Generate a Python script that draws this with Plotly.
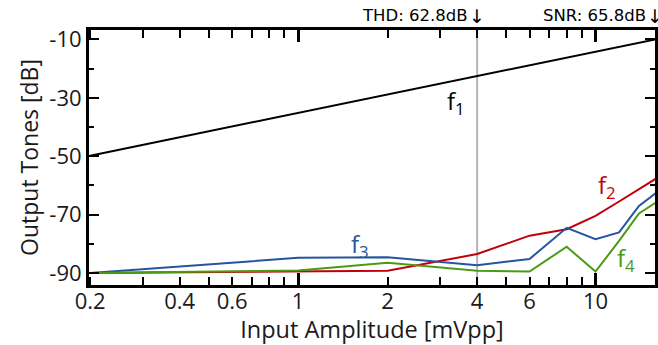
import math
import plotly.graph_objects as go

# ---- data ----
amplitude = [0.2, 1, 2, 4, 6, 8, 10, 12, 14, 16]          # mVpp
f1 = [-49.8, -35.1, -28.8, -22.5, -18.8, -16.2, -14.1, -12.5, -11.1, -9.9]
f2 = [-90.0, -89.6, -89.2, -83.5, -77.2, -75.0, -70.4, -65.5, -61.3, -57.6]
f3 = [-90.0, -84.8, -84.6, -87.3, -85.2, -74.5, -78.4, -76.1, -67.0, -62.5]
f4 = [-90.0, -89.1, -86.5, -89.2, -89.5, -81.0, -89.5, -79.0, -69.6, -65.8]

x_tick_vals = [0.2, 0.4, 0.6, 1, 2, 4, 6, 10]
x_tick_text = ["0.2", "0.4", "0.6", "1", "2", "4", "6", "10"]
x_minor_vals = [0.3, 0.5, 0.7, 0.8, 0.9, 3, 5, 7, 8, 9]
x_decade_vals = [1, 10]
y_tick_vals = [-10, -30, -50, -70, -90]
y_minor_vals = [-20, -40, -60, -80]

thd_x = 4
thd_text = "THD: 62.8dB"
snr_text = "SNR: 65.8dB"

labels = [  # (text, x, y, colour)
    ("f<sub>1</sub>", 3.4, -31.5, "#000000"),
    ("f<sub>2</sub>", 10.9, -60.3, "#c0000a"),
    ("f<sub>3</sub>", 1.62, -80.3, "#24559e"),
    ("f<sub>4</sub>", 12.7, -85.3, "#4c9a14"),
]

colors = {"f1": "#000000", "f2": "#c0000a", "f3": "#24559e", "f4": "#4c9a14"}

x_range = [math.log10(0.2) - 0.004, math.log10(15.85)]
y_range = [-94.1, -6.75]

fig = go.Figure()
fig.add_shape(type="line", xref="x", yref="paper", x0=thd_x, x1=thd_x, y0=0, y1=1,
              line=dict(color="#b4b4b4", width=2), layer="below")

for name, ys in [("f1", f1), ("f2", f2), ("f3", f3), ("f4", f4)]:
    fig.add_trace(go.Scatter(x=amplitude, y=ys, mode="lines", name=name,
                             line=dict(color=colors[name], width=2), showlegend=False))

# invisible helper trace for the decade-tick overlay axis
fig.add_trace(go.Scatter(x=amplitude, y=f1, mode="lines", xaxis="x2", yaxis="y",
                         line=dict(width=0), hoverinfo="skip", showlegend=False, opacity=0))

for text, x, y, c in labels:
    fig.add_annotation(x=math.log10(x), y=y, xref="x", yref="y", text=text, showarrow=False,
                       font=dict(family="Open Sans", size=24, color=c))

ann_font = dict(family="DejaVu Sans", size=16.5, color="#000000")
for txt, xv, xr in [(thd_text, math.log10(thd_x), "x"), (snr_text, 1, "paper")]:
    fig.add_annotation(x=xv, y=1, xref=xr, yref="paper", yanchor="bottom",
                       xanchor="right", xshift=-7, yshift=3, text=txt, showarrow=False,
                       font=ann_font)
    fig.add_annotation(x=xv, y=1, xref=xr, yref="paper", yanchor="bottom",
                       xanchor="center", yshift=1, text="↓", showarrow=False,
                       font=dict(family="DejaVu Sans", size=19, color="#000000"))

axis_font = dict(family="Open Sans", size=22, color="#1a1a1a")
fig.update_layout(
    width=658, height=345,
    margin=dict(l=89, r=3, t=30, b=60, autoexpand=False),
    plot_bgcolor="white", paper_bgcolor="white",
    xaxis=dict(type="log", range=x_range, tickvals=x_tick_vals, ticktext=x_tick_text,
               ticks="inside", ticklen=8, tickwidth=2, tickcolor="black",
               showline=True, linecolor="black", linewidth=3, mirror="ticks",
               showgrid=False, zeroline=False, tickfont=axis_font, automargin=False,
               ticklabelstandoff=-5,
               minor=dict(tickvals=x_minor_vals, ticks="inside", ticklen=8, tickwidth=2,
                          tickcolor="black", showgrid=False),
               title=dict(text="Input Amplitude [mVpp]",
                          font=dict(family="Open Sans", size=23.5, color="#1a1a1a"),
                          standoff=0)),
    xaxis2=dict(type="log", range=x_range, overlaying="x", anchor="y", side="bottom",
                tickvals=x_decade_vals, ticks="inside", ticklen=12, tickwidth=3,
                tickcolor="black", showticklabels=False, mirror="ticks",
                showline=False, showgrid=False, zeroline=False),
    yaxis=dict(range=y_range, tickvals=y_tick_vals, ticktext=[str(v) for v in y_tick_vals],
               ticks="inside", ticklen=10, tickwidth=2, tickcolor="black",
               showline=True, linecolor="black", linewidth=3, mirror="ticks",
               showgrid=False, zeroline=False, tickfont=axis_font, automargin=False,
               minor=dict(tickvals=y_minor_vals, ticks="inside", ticklen=5, tickwidth=2,
                          tickcolor="black", showgrid=False),
               title=dict(text="Output Tones [dB]",
                          font=dict(family="Open Sans", size=23, color="#1a1a1a"),
                          standoff=5)),
)

fig.write_html("out.html", config={"displayModeBar": False},
               post_script="document.body.style.margin='0';")
